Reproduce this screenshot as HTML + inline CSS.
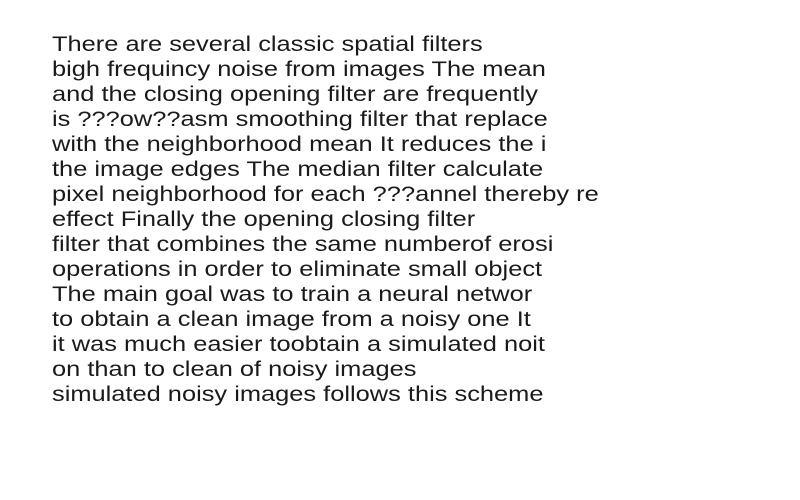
<!DOCTYPE html>
<html>
<head>
<meta charset="utf-8">
<style>
  html, body { margin: 0; padding: 0; background: #ffffff; }
  body { width: 800px; height: 500px; overflow: hidden; position: relative; }
  .line {
    position: absolute;
    left: 52px;
    font-family: "Liberation Sans", "DejaVu Sans", sans-serif;
    font-size: 21px;
    line-height: 24px;
    color: #1a1a1a;
    white-space: pre;
    transform: scaleX(1.21);
    transform-origin: left top;
  }
</style>
</head>
<body>
<div id="text-block">
  <div class="line" style="top:33px">There are several classic spatial filters</div>
  <div class="line" style="top:58px">bigh frequincy noise from images The mean</div>
  <div class="line" style="top:83px">and the closing opening filter are frequently</div>
  <div class="line" style="top:108px">is ???ow??asm smoothing filter that replace</div>
  <div class="line" style="top:133px">with the neighborhood mean It reduces the i</div>
  <div class="line" style="top:158px">the image edges The median filter calculate</div>
  <div class="line" style="top:183px">pixel neighborhood for each ???annel thereby re</div>
  <div class="line" style="top:208px">effect Finally the opening closing filter</div>
  <div class="line" style="top:233px">filter that combines the same numberof erosi</div>
  <div class="line" style="top:258px">operations in order to eliminate small object</div>
  <div class="line" style="top:283px">The main goal was to train a neural networ</div>
  <div class="line" style="top:308px">to obtain a clean image from a noisy one It</div>
  <div class="line" style="top:333px">it was much easier toobtain a simulated noit</div>
  <div class="line" style="top:358px">on than to clean of noisy images</div>
  <div class="line" style="top:383px">simulated noisy images follows this scheme</div>
</div>
</body>
</html>
